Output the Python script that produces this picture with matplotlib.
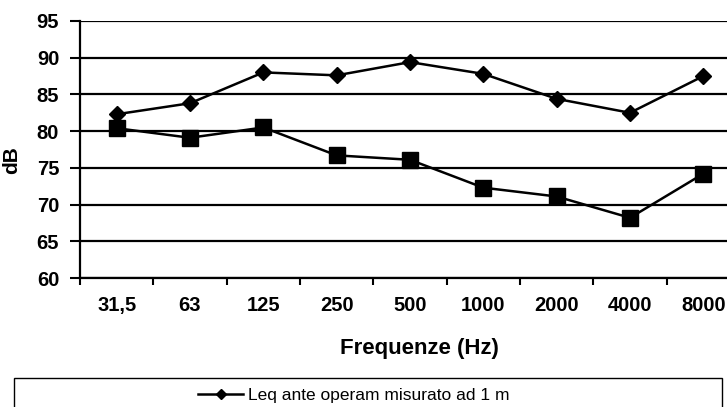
import matplotlib
matplotlib.use('Agg')
import matplotlib.pyplot as plt
from matplotlib.patches import Rectangle
from matplotlib.lines import Line2D

# dati
frequenze = ['31,5', '63', '125', '250', '500', '1000', '2000', '4000', '8000']
leq_ante = [82.3, 83.8, 88.0, 87.6, 89.4, 87.8, 84.4, 82.5, 87.5]
leq_2 = [80.4, 79.1, 80.5, 76.7, 76.1, 72.3, 71.1, 68.2, 74.2]
label_ante = 'Leq ante operam misurato ad 1 m'

plt.rcParams['font.family'] = ['Liberation Sans', 'DejaVu Sans']

W, H = 727, 407
fig = plt.figure(figsize=(W / 100, H / 100), dpi=100)
# asse: x da 80 a 740 px (tagliato a destra), y da 21 a 278 px
ax = fig.add_axes([80 / W, (H - 278) / H, 660 / W, 257 / H])

x = list(range(len(frequenze)))
ax.plot(x, leq_ante, 'k-', lw=1.8, marker='D', ms=8.5, mfc='k', mec='k', label=label_ante)
ax.plot(x, leq_2, 'k-', lw=1.8, marker='s', ms=11, mfc='k', mec='k')

ax.set_xlim(-0.5, len(frequenze) - 0.5)
ax.set_ylim(60, 95)
ax.set_yticks(range(60, 96, 5))
ax.set_xticks(x)
ax.set_xticklabels(frequenze)
ax.set_xticks([i + 0.5 for i in range(-1, len(frequenze))], minor=True)

ax.grid(axis='y', color='k', lw=1.6)
ax.set_axisbelow(True)
for s in ['top', 'right']:
    ax.spines[s].set_visible(False)
ax.spines['left'].set_linewidth(1.6)
ax.spines['bottom'].set_linewidth(1.6)

ax.tick_params(axis='y', length=7, width=1.5, pad=8, labelsize=14.5)
ax.tick_params(axis='x', which='major', length=0, pad=13, labelsize=14.5)
ax.tick_params(axis='x', which='minor', length=5, width=1.5)
for t in ax.get_xticklabels() + ax.get_yticklabels():
    t.set_fontweight('bold')

ax.set_xlabel('Frequenze (Hz)', fontsize=16, fontweight='bold')
ax.xaxis.set_label_coords((419 - 80) / 660, -(338 - 278) / 257)
ax.set_ylabel('dB', fontsize=15, fontweight='bold')
ax.yaxis.set_label_coords(-(80 - 21) / 660, (278 - 160) / 257)

# riquadro legenda (tagliato in basso)
fig.patches.append(Rectangle((14 / W, -0.05), 708 / W, (H - 378) / H + 0.05,
                             transform=fig.transFigure, fill=False, ec='k', lw=1.0))
h = Line2D([], [], color='k', lw=1.8, marker='D', ms=5)
fig.legend(handles=[h], labels=[label_ante], loc='center', bbox_to_anchor=(354 / W, (H - 395) / H),
           frameon=False, fontsize=12.5, handlelength=2.6, handletextpad=0.3)

fig.savefig('out.png', dpi=100)
